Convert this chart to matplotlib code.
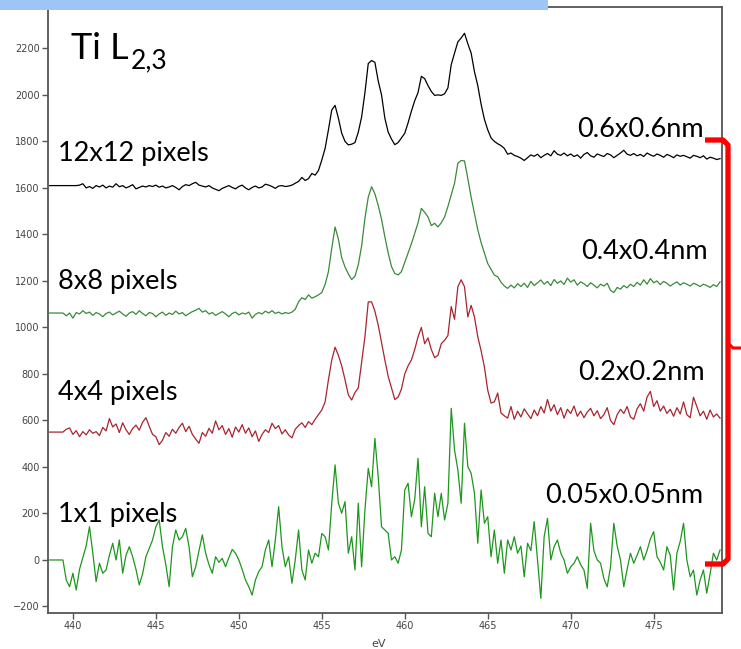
import numpy as np
import matplotlib
matplotlib.use("Agg")
import matplotlib.pyplot as plt
from matplotlib.lines import Line2D
from matplotlib.patches import Rectangle

# energy loss axis, 0.2 eV channels
energy = np.round(np.arange(438.6, 479.01, 0.2), 1)

# Ti L2,3 edge summed over different probe areas (counts, offset per trace)
sum_12x12 = [
    1610, 1610, 1610, 1610, 1610, 1610, 1610, 1610, 1610, 1612,
    1618, 1600, 1606, 1598, 1610, 1604, 1612, 1600, 1608, 1603,
    1618, 1605, 1610, 1600, 1606, 1614, 1596, 1602, 1608, 1604,
    1610, 1606, 1612, 1603, 1608, 1600, 1604, 1610, 1602, 1592,
    1606, 1614, 1610, 1618, 1624, 1612, 1608, 1604, 1610, 1600,
    1594, 1588, 1598, 1604, 1610, 1602, 1596, 1606, 1612, 1600,
    1592, 1602, 1608, 1600, 1604, 1616, 1612, 1606, 1598, 1608,
    1610, 1606, 1608, 1612, 1620, 1628, 1645, 1632, 1640, 1662,
    1655, 1675, 1720, 1770, 1850, 1935, 1955, 1900, 1835, 1800,
    1785, 1788, 1795, 1840, 1905, 2010, 2135, 2148, 2140, 2060,
    2000, 1900, 1840, 1810, 1786, 1795, 1815, 1835, 1880, 1930,
    1975, 2010, 2080, 2070, 2040, 2015, 1998, 2000, 1998, 2005,
    2030, 2130, 2180, 2228, 2245, 2265, 2220, 2180, 2100, 2040,
    1960, 1895, 1850, 1815, 1800, 1790, 1782, 1770, 1745, 1750,
    1740, 1735, 1728, 1718, 1730, 1742, 1736, 1745, 1730, 1740,
    1748, 1738, 1760, 1745, 1740, 1750, 1738, 1746, 1735, 1742,
    1728, 1744, 1752, 1738, 1732, 1746, 1740, 1735, 1748, 1742,
    1730, 1740, 1750, 1762, 1745, 1740, 1748, 1738, 1744, 1735,
    1750, 1742, 1736, 1746, 1740, 1732, 1744, 1738, 1730, 1742,
    1736, 1740, 1734, 1728, 1740, 1736, 1730, 1738, 1724, 1732,
    1728, 1722, 1726,
]

sum_8x8 = [
    1062, 1062, 1062, 1062, 1062, 1050, 1062, 1040, 1064, 1058,
    1072, 1060, 1066, 1052, 1064, 1058, 1046, 1060, 1066, 1054,
    1062, 1070, 1058, 1048, 1062, 1068, 1056, 1072, 1060, 1050,
    1064, 1060, 1046, 1058, 1066, 1052, 1062, 1056, 1070, 1058,
    1064, 1050, 1060, 1068, 1074, 1082, 1066, 1072, 1058, 1064,
    1052, 1060, 1068, 1058, 1046, 1060, 1066, 1054, 1062, 1058,
    1066, 1040, 1056, 1064, 1058, 1070, 1062, 1072, 1060, 1066,
    1058, 1064, 1060, 1066, 1078, 1110, 1128, 1120, 1140, 1126,
    1132, 1140, 1150, 1185, 1240, 1340, 1432, 1380, 1300, 1260,
    1230, 1206, 1220, 1270, 1350, 1470, 1560, 1605, 1575, 1525,
    1465, 1390, 1320, 1262, 1232, 1226, 1240, 1280, 1320, 1360,
    1405, 1450, 1512, 1495, 1475, 1438, 1448, 1432, 1450, 1475,
    1520, 1570, 1620, 1706, 1718, 1716, 1640, 1560, 1490, 1420,
    1365, 1320, 1275, 1250, 1225, 1218, 1195, 1178, 1168, 1182,
    1170, 1188, 1176, 1190, 1172, 1198, 1180, 1192, 1204, 1186,
    1198, 1180, 1206, 1190, 1200, 1185, 1212, 1195, 1205, 1182,
    1196, 1188, 1176, 1192, 1182, 1170, 1186, 1178, 1190, 1160,
    1150, 1172, 1165, 1180, 1170, 1186, 1176, 1194, 1182, 1205,
    1186, 1210, 1192, 1200, 1184, 1198, 1190, 1178, 1188, 1196,
    1182, 1192, 1186, 1178, 1190, 1184, 1176, 1186, 1180, 1172,
    1184, 1176, 1196,
]

sum_4x4 = [
    550, 550, 550, 550, 550, 562, 568, 540, 556, 530,
    552, 538, 560, 545, 552, 535, 570, 555, 608, 572,
    585, 548, 590, 560, 540, 565, 580, 558, 592, 612,
    575, 540, 530, 496, 515, 548, 532, 562, 545, 570,
    588, 552, 575, 540, 520, 502, 548, 532, 566, 545,
    598, 560, 578, 540, 565, 528, 572, 550, 582, 545,
    568, 530, 555, 510, 540, 560, 548, 588, 565, 578,
    542, 560, 538, 525, 562, 578, 590, 570, 595, 582,
    605, 625, 645, 680, 775, 860, 915, 880, 835, 775,
    710, 688, 720, 740, 850, 960, 1110, 1110, 1070, 1010,
    935, 860, 790, 740, 690, 700, 735, 800, 835, 860,
    905, 960, 1000, 930, 955, 905, 870, 880, 930, 945,
    965, 1090, 1035, 1175, 1205, 1175, 1045, 1095, 1045, 960,
    900, 830, 730, 675, 680, 718, 632, 620, 610, 660,
    605, 640, 615, 650, 628, 608, 645, 620, 660, 632,
    690, 640, 668, 625, 655, 610, 648, 630, 662, 618,
    640, 612, 636, 652, 620, 642, 608, 625, 655, 600,
    582, 625, 648, 630, 660, 615, 605, 650, 672, 640,
    700, 725, 660, 685, 640, 662, 630, 648, 618, 655,
    628, 680, 625, 612, 700, 660, 620, 640, 605, 645,
    615, 628, 610,
]

sum_1x1 = [
    0, 0, 0, 0, 0, -86, -115, -57, -129, -40,
    10, 60, 143, 30, -93, -14, -57, -43, 20, 72,
    0, 86, -57, 20, 57, 14, -40, -107, -60, 14,
    50, 86, 143, 172, 57, -20, -115, 57, 129, 86,
    100, 136, 57, -72, -29, 40, 108, 29, -20, -57,
    14, -10, 7, -29, 10, 45, 29, 0, -40, -86,
    -115, -151, -86, -50, -29, 43, 86, -29, 86, 229,
    57, -29, 14, -100, 0, 129, -43, -86, 43, -14,
    29, 14, 114, 100, 43, 244, 409, 244, 201, 251,
    29, 100, -43, 244, -29, 215, 394, 315, 523, 358,
    143, 129, 115, 0, 14, -14, 43, 301, 330, 186,
    260, 437, 143, 315, 115, 100, 287, 186, 287, 172,
    244, 652, 473, 387, 244, 588, 401, 373, 287, 72,
    301, 158, 186, 14, 129, -14, 86, -57, 86, 43,
    100, 29, 60, -72, 72, 40, 165, 0, -165, 100,
    179, 0, 57, 86, 30, 0, -57, -30, -14, 14,
    -20, -43, -122, 158, 40, 0, -14, -80, -115, -29,
    158, 60, 0, -115, -40, 29, -14, 20, 57, 0,
    40, 90, 122, 14, -10, -43, 57, 20, -129, 29,
    80, 158, 0, -72, -43, -151, -86, -43, -143, -60,
    29, 0, 43,
]

left_labels = ["12x12 pixels", "8x8 pixels", "4x4 pixels", "1x1 pixels"]
right_labels = ["0.6x0.6nm", "0.4x0.4nm", "0.2x0.2nm", "0.05x0.05nm"]

W, H = 741, 649
def fx(px):
    return px / W
def fy(py):
    return 1 - py / H

fig = plt.figure(figsize=(W / 100, H / 100), dpi=100)
fig.patch.set_facecolor("white")
ax = fig.add_axes([fx(48), fy(613), (721.7 - 48) / W, (613 - 7) / H])

ax.plot(energy, sum_12x12, color="black", lw=0.9)
ax.plot(energy, sum_8x8, color="#3a8a3a", lw=0.9)
ax.plot(energy, sum_4x4, color="#a8252e", lw=0.9)
ax.plot(energy, sum_1x1, color="#1e961e", lw=0.9)

ax.set_xlim(438.5, 479.1)
ax.set_ylim(-228, 2378)
ax.set_xticks(np.arange(440, 476, 5))
ax.set_yticks(np.arange(-200, 2201, 200))
for s in ax.spines.values():
    s.set_color("#555555")
    s.set_linewidth(1.3)
ax.tick_params(direction="out", length=4, width=1, colors="#555555",
               labelsize=7, labelcolor="#444444", pad=2)

fig.text(fx(379), fy(639), "eV", ha="center", va="top", fontsize=8, color="#444444")

# annotations
fam = ["Lato", "DejaVu Sans"]
title = fig.text(fx(71), fy(59), "Ti L", fontsize=26, family=fam, va="baseline")
fig.canvas.draw()
bb = title.get_window_extent()
fig.text(bb.x1 / W + 2 / W, fy(68), "2,3", fontsize=19, family=fam, va="baseline")

left_y = [161, 289, 400, 521.7]
for lab, py in zip(left_labels, left_y):
    fig.text(fx(58.5), fy(py), lab, fontsize=19.5, family=fam, va="baseline")

right_y = [137.3, 259.3, 380, 503.3]
right_x = [703.5, 707.5, 705, 703]
for lab, px, py in zip(right_labels, right_x, right_y):
    fig.text(fx(px), fy(py), lab, fontsize=19.5, family=fam, va="baseline", ha="right")

# red brace on the right
bx = [705, 723, 728, 728, 723, 705]
by = [140, 140, 145, 559, 564, 564]
fig.add_artist(Line2D([fx(v) for v in bx], [fy(v) for v in by], transform=fig.transFigure,
                      color="#ff0000", lw=3.8, solid_joinstyle="round", solid_capstyle="butt"))
tx = [728, 733, 741]
ty = [343, 348, 348]
fig.add_artist(Line2D([fx(v) for v in tx], [fy(v) for v in ty], transform=fig.transFigure,
                      color="#ff0000", lw=2.2, solid_joinstyle="round"))

# title bar strip at the top
fig.add_artist(Rectangle((0, fy(10)), 548 / W, 10 / H, transform=fig.transFigure,
                         facecolor="#9fc4f7", edgecolor="none", zorder=10))

fig.savefig("out.png", dpi=100)
